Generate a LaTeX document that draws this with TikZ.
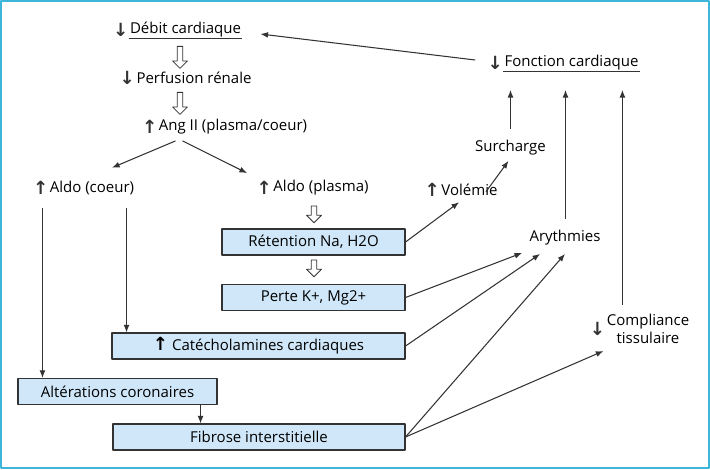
\documentclass[tikz,border=0pt]{standalone}
\usepackage{fontspec}
\setmainfont{Open Sans}
\newfontfamily\fleche{DejaVu Sans}
\usetikzlibrary{calc,arrows.meta,shapes.arrows}
\definecolor{cadre}{HTML}{3DB6DA}
\definecolor{boite}{HTML}{CFE7F8}
\definecolor{trait}{HTML}{333333}
\newcommand{\haut}{{\fleche\bfseries\fontsize{15.5}{15}\selectfont ↑}}
\newcommand{\bas}{{\fleche\bfseries\fontsize{15.5}{15}\selectfont ↓}}
\begin{document}
\begin{tikzpicture}[x=0.03cm,y=-0.03cm,line join=round,>={Latex[length=6.5pt,width=5pt]},
	font=\fontsize{12.8}{15}\selectfont,
	txt/.style={inner sep=1pt,text=black},
	sym/.style={inner sep=1pt,text=trait,label distance=-1pt},
	bx/.style={draw=trait,fill=boite,line width=0.9pt,minimum height=0.78cm,inner sep=0pt},
	fl/.style={draw=trait,line width=0.9pt},
	creux/.style={single arrow,draw=trait,fill=white,line width=0.7pt,shape border rotate=270,
		inner sep=0.07cm,single arrow head extend=0.14cm,minimum height=#1},
	creux/.default=0.66cm]
	\useasboundingbox (0,0) rectangle (710,469);
	\draw[cadre,line width=1.6pt] (1,1) rectangle (709,468);
	%%Textes
	\node[txt,label={[sym]left:\bas}] (debit) at (185.5,30) {Débit cardiaque};
	\node[txt,label={[sym]left:\bas}] (perf) at (194,78) {Perfusion rénale};
	\node[txt,label={[sym]left:\haut}] (ang) at (233,127) {Ang II (plasma/coeur)};
	\node[txt,label={[sym]left:\haut}] (aldoc) at (92,188) {Aldo (coeur)};
	\node[txt,label={[sym]left:\haut}] (aldop) at (321,188) {Aldo (plasma)};
	\node[txt,label={[sym]left:\bas}] (fonction) at (571.5,63) {Fonction cardiaque};
	\node[txt] (surch) at (510.5,148) {Surcharge};
	\node[txt,label={[sym]left:\haut}] (volemie) at (469.5,190) {Volémie};
	\node[txt] (aryth) at (565,238) {Arythmies};
	\node[txt,align=center,label={[sym]left:\bas}] (compl) at (648,329) {Compliance\\tissulaire};
	%%Boites
	\node[bx,minimum width=5.49cm] (ret) at (313.5,242) {Rétention Na, H2O};
	\node[bx,minimum width=5.49cm] (perte) at (313.5,297.5) {Perte K+, Mg2+};
	\node[bx,minimum width=8.79cm] (cat) at (258.5,346) {\haut{} Catécholamines cardiaques};
	\node[bx,minimum width=5.97cm] (alt) at (117.5,391.5) {Altérations coronaires};
	\node[bx,minimum width=8.76cm] (fib) at (259,437) {Fibrose interstitielle};
	%%Soulignes
	\draw[fl] (debit.south west) -- (debit.south east);
	\draw[fl] (fonction.south west) -- (fonction.south east);
	%%Fleches creuses
	\foreach \n/\x/\y/\l in {c1/180/56/0.66cm,c2/180/102/0.66cm,c3/314/213/0.5cm,c4/314/267/0.5cm}{
		\node[creux=\l] (\n) at (\x,\y) {};
	}
	%%Fleches
	\draw[fl,->] ($(fonction.west)+(-28,-3)$) -- ($(debit.east)+(18,4)$);
	\draw[fl,->] ($(ang.south west)+(18,5)$) -- ($(aldoc.north)+(20,-12)$);
	\draw[fl,->] ($(ang.south west)+(25,5)$) -- ($(aldop.north west)+(-25,-6)$);
	\draw[fl,->] ($(aldoc.south west)+(-6,12)$) coordinate (a1) -- (a1 |- alt.north);
	\draw[fl,->] ($(aldoc.south east)+(-9,12)$) coordinate (a2) -- (a2 |- cat.north);
	\draw[fl,->] ($(alt.south east)+(-17,0)$) coordinate (a3) -- (a3 |- fib.north);
	\draw[fl,->] (ret.east) -- ($(volemie.south west)+(19,5)$);
	\draw[fl,->] ($(volemie.north east)+(-13,9)$) -- ($(surch.south)+(-2,4)$);
	\draw[fl,->] ($(surch.north)+(0,-10)$) coordinate (a4) -- ($(a4 |- fonction.south)+(0,18)$);
	\draw[fl,->] ($(aryth.north)+(0.5,-10)$) coordinate (a5) -- ($(a5 |- fonction.south)+(0,18)$);
	\draw[fl,->] ($(compl.north west)+(17,-8)$) coordinate (a6) -- ($(a6 |- fonction.south)+(0,18)$);
	\draw[fl,->] (perte.east) -- ($(aryth.south west)+(-6,6)$);
	\draw[fl,->] (cat.east) -- ($(aryth.south west)+(12,7)$);
	\draw[fl,->] (fib.east) -- ($(aryth.south)+(0,7)$);
	\draw[fl,->] (fib.east) -- ($(compl.west)+(-2,22)$);
\end{tikzpicture}
\end{document}
